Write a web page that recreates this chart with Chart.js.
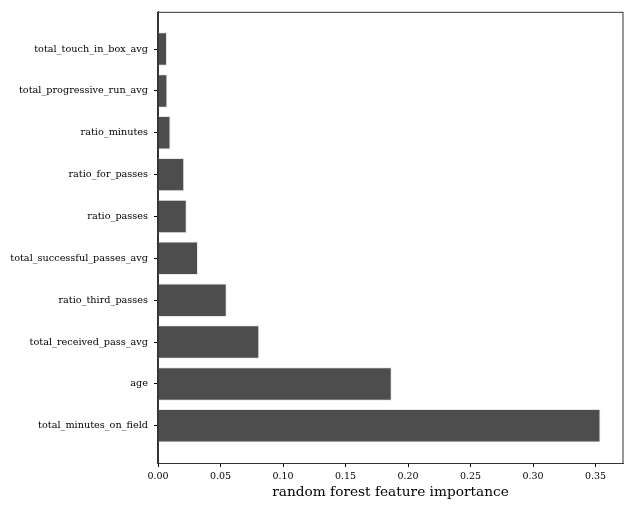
<!DOCTYPE html>
<html>
<head>
<meta charset="utf-8">
<script src="https://cdn.jsdelivr.net/npm/chart.js@4"></script>
<style>
  html, body { margin: 0; padding: 0; background: #fff; }
  #wrap { width: 633px; height: 511px; }
</style>
</head>
<body>
<div id="wrap"><canvas id="chart" width="633" height="511"></canvas></div>
<script>
// features, bottom to top
var features = [
  'total_minutes_on_field',
  'age',
  'total_received_pass_avg',
  'ratio_third_passes',
  'total_successful_passes_avg',
  'ratio_passes',
  'ratio_for_passes',
  'ratio_minutes',
  'total_progressive_run_avg',
  'total_touch_in_box_avg'
];
var importance = [0.354, 0.187, 0.081, 0.055, 0.032, 0.023, 0.021, 0.010, 0.0075, 0.0072];
var xTicks = [0, 0.05, 0.10, 0.15, 0.20, 0.25, 0.30, 0.35];

var points = [];
for (var i = 0; i < features.length; i++) {
  points.push({ x: importance[i], y: i });
}

var serif = "'DejaVu Serif', serif";

// frame around the plot area like matplotlib spines
var framePlugin = {
  id: 'frame',
  afterDraw: function(chart) {
    var a = chart.chartArea;
    var ctx = chart.ctx;
    ctx.save();
    ctx.strokeStyle = '#333';
    ctx.lineWidth = 1;
    ctx.strokeRect(a.left - 0.5, a.top + 0.5, a.right - a.left + 0.5, a.bottom - a.top);
    ctx.restore();
  }
};

new Chart(document.getElementById('chart'), {
  type: 'bar',
  data: {
    datasets: [{
      data: points,
      backgroundColor: '#4d4d4d',
      borderColor: '#e8e8e8',
      borderWidth: 1,
      categoryPercentage: 0.8,
      barPercentage: 1.0
    }]
  },
  options: {
    indexAxis: 'y',
    responsive: false,
    animation: false,
    layout: { padding: { top: 10, right: 10, left: 0, bottom: 0 } },
    plugins: {
      legend: { display: false },
      tooltip: { enabled: false }
    },
    scales: {
      x: {
        type: 'linear',
        min: 0,
        max: 0.372,
        afterBuildTicks: function(scale) {
          scale.ticks = xTicks.map(function(v) { return { value: v }; });
        },
        afterFit: function(scale) { scale.height = 48; },
        grid: { display: true, drawOnChartArea: false, drawTicks: true, tickLength: 4, color: '#000' },
        border: { display: true, color: '#333' },
        ticks: {
          color: '#000',
          padding: 4,
          maxRotation: 0,
          font: { family: serif, size: 9.5 },
          callback: function(v) { return Number(v).toFixed(2); }
        },
        title: {
          display: true,
          text: 'random forest feature importance',
          color: '#000',
          padding: { top: 1, bottom: 10 },
          font: { family: serif, size: 13.7 }
        }
      },
      y: {
        type: 'linear',
        min: -0.89,
        max: 9.89,
        offset: false,
        afterBuildTicks: function(scale) {
          scale.ticks = features.map(function(f, i) { return { value: i }; });
        },
        afterFit: function(scale) { scale.width = 158; },
        grid: { display: true, offset: false, drawOnChartArea: false, drawTicks: true, tickLength: 4, color: '#000' },
        border: { display: true, color: '#333' },
        ticks: {
          color: '#000',
          padding: 6,
          font: { family: serif, size: 9.7 },
          callback: function(v) { return features[v]; }
        }
      }
    }
  },
  plugins: [framePlugin]
});
</script>
</body>
</html>
